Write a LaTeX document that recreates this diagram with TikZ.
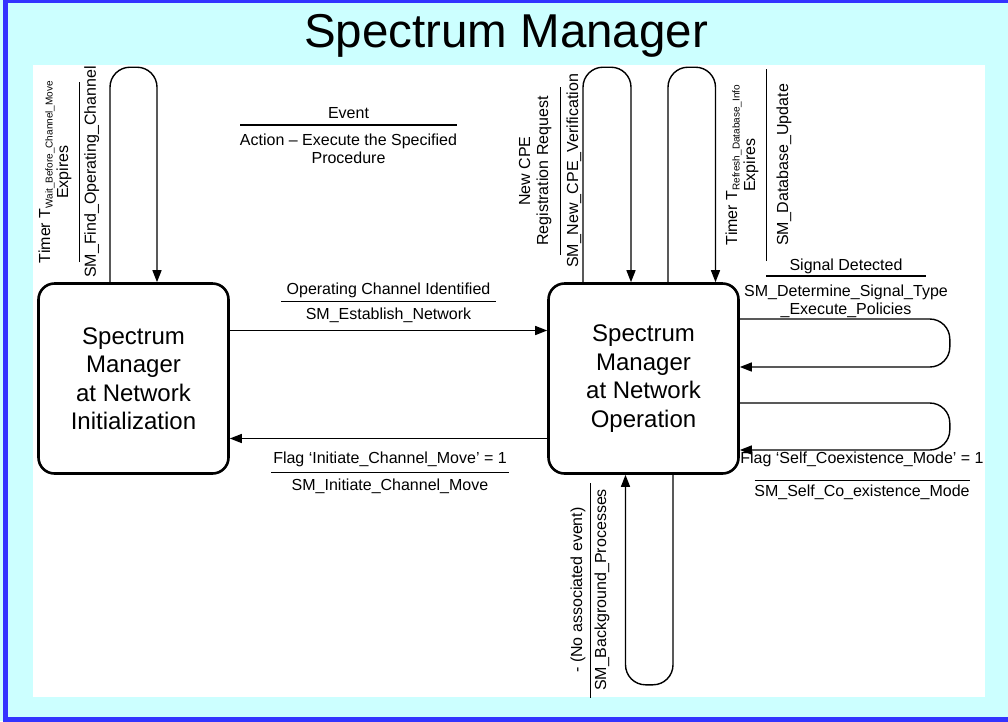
\documentclass[tikz,border=0pt]{standalone}
\usepackage{fontspec}
\usepackage{array}
\setmainfont{Liberation Sans}
\usetikzlibrary{arrows.meta}
\definecolor{bgcyan}{RGB}{204,255,255}
\definecolor{frameblue}{RGB}{51,51,255}
\setlength{\arrayrulewidth}{1.2pt}
% #1 event, #2 action, #3 gap under event, #4 strut above action, #5 rule length
\newcommand{\ea}[5]{\begin{tabular}[t]{@{}>{\hbox to #5\bgroup\hss}c<{\hss\egroup}@{}}#1\\[#3]\hline\rule{0pt}{#4}#2\end{tabular}}
\newcommand{\subT}[1]{T\raisebox{-2.5pt}{\fontsize{10}{10}\selectfont #1}}
\begin{document}
\begin{tikzpicture}[x=1pt,y=-1pt,
  state/.style={draw, line width=2.6pt, rounded corners=16pt, minimum width=190pt,
    minimum height=190pt, align=center, inner sep=0pt,
    font=\fontsize{24}{28.5}\selectfont},
  conn/.style={line width=1.4pt},
  arr/.style={conn, -{Triangle[length=12pt,width=9pt]}},
  lbl/.style={font=\fontsize{16}{18}\selectfont, inner sep=0pt, anchor=base},
  loop/.style={arr, rounded corners=20pt}]
\useasboundingbox (0,0) rectangle (1008,721);
\fill[bgcyan] (0,0) rectangle (1008,721);
\draw[frameblue, line width=5pt] (5.8,0.8) rectangle (1030,719.3);
\fill[white] (33,65) rectangle (985,697);

\node[font=\fontsize{47.5}{50}\selectfont, anchor=base, inner sep=0pt] (title) at (506,47) {Spectrum Manager};

\node[state] (init) at (133.5,378.5) {Spectrum\\Manager\\at Network\\Initialization};
\node[state] (oper) at (643.5,378.5) {Spectrum\\Manager\\at Network\\Operation};

% loops
\draw[loop] ([xshift=-23.5pt]init.north) -- ++(0,-215) -- ++(47,0) -- ([xshift=23.5pt]init.north);
\draw[loop] ([xshift=-60.5pt]oper.north) -- ++(0,-215) -- ++(48,0) -- ([xshift=-12.5pt]oper.north);
\draw[loop] ([xshift=24.5pt]oper.north) -- ++(0,-215) -- ++(47.5,0) -- ([xshift=72pt]oper.north);
\draw[loop] ([yshift=59.5pt]oper.east) -- ++(210,0) -- ++(0,48) -- ([yshift=11.5pt]oper.east);
\draw[loop] ([yshift=-24.5pt]oper.east) -- ++(210,0) -- ++(0,47) -- ([yshift=-71.5pt]oper.east);
\draw[loop] ([xshift=29.5pt]oper.south) -- ++(0,210) -- ++(-47.5,0) -- ([xshift=-18pt]oper.south);

% transitions
\draw[arr] ([yshift=48pt]init.east) -- ([yshift=48pt]oper.west);
\draw[arr] ([yshift=-60pt]oper.west) -- ([yshift=-60pt]init.east);

% labels
\node[lbl] (legend) at (348.5,118) {\ea{Event}{Action – Execute the Specified\\Procedure}{1pt}{19.5pt}{217pt}};
\node[lbl] (opid) at (388.5,294) {\ea{Operating Channel Identified}{SM\_Establish\_Network}{1.6pt}{17.5pt}{215pt}};
\node[lbl] (flaginit) at (390,463) {\ea{Flag ‘Initiate\_Channel\_Move’ = 1}{SM\_Initiate\_Channel\_Move}{3.6pt}{17.5pt}{238pt}};
\node[lbl] (sig) at (846,270) {\ea{Signal Detected}{SM\_Determine\_Signal\_Type\\\_Execute\_Policies}{0pt}{20pt}{160pt}};
\node[lbl] (flagself) at (862,463) {\ea{Flag ‘Self\_Coexistence\_Mode’ = 1}{SM\_Self\_Co\_existence\_Mode}{11.5pt}{15pt}{215pt}};

\node[lbl, rotate=90] (timerwait) at (50,172) {\ea{Timer \subT{Wait\_Before\_Channel\_Move}\\Expires}{SM\_Find\_Operating\_Channel}{5.3pt}{16pt}{180pt}};
\node[lbl, rotate=90] (newcpe) at (530,171) {\ea{New CPE\\Registration Request}{SM\_New\_CPE\_Verification}{6.6pt}{17pt}{168pt}};
\node[lbl, rotate=90] (timerref) at (737,165) {\ea{Timer \subT{Refresh\_Database\_Info}\\Expires}{SM\_Database\_Update}{5.6pt}{21pt}{192pt}};
\node[lbl, rotate=90] (noevent) at (582,590) {\ea{- (No associated event)}{SM\_Background\_Processes}{2.6pt}{15pt}{215pt}};
\end{tikzpicture}
\end{document}
